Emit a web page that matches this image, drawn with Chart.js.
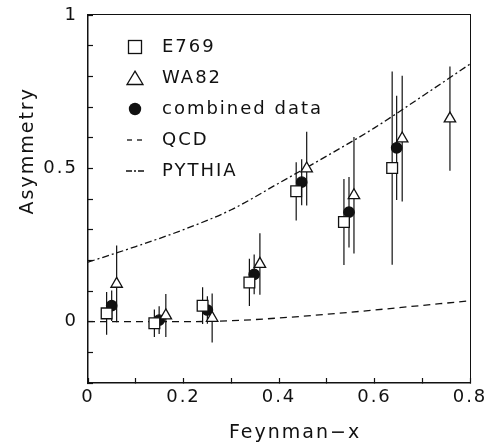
<!DOCTYPE html>
<html>
<head>
<meta charset="utf-8">
<script src="https://cdn.jsdelivr.net/npm/chart.js@4/dist/chart.umd.min.js"></script>
<style>
html,body{margin:0;padding:0;background:#fff;}
#wrap{position:relative;width:490px;height:445px;}
#frame{position:absolute;box-sizing:border-box;border-top:1.5px solid #111;border-right:1.5px solid #111;pointer-events:none;}
</style>
</head>
<body>
<div id="wrap"><canvas id="c" width="490" height="445"></canvas><div id="frame"></div></div>
<script>
// ---- data ----
const e769X = [0.039, 0.139, 0.240, 0.338, 0.436, 0.536, 0.637];
const e769Y = [0.027, -0.005, 0.052, 0.128, 0.425, 0.325, 0.501];
const e769E = [0.070, 0.045, 0.060, 0.077, 0.095, 0.140, 0.315];

const wa82X = [0.060, 0.163, 0.260, 0.360, 0.458, 0.557, 0.658, 0.758];
const wa82Y = [0.123, 0.020, 0.012, 0.188, 0.499, 0.412, 0.597, 0.662];
const wa82E = [0.125, 0.070, 0.080, 0.100, 0.120, 0.190, 0.205, 0.170];

const combX = [0.0496, 0.149, 0.250, 0.348, 0.4475, 0.5466, 0.6464];
const combY = [0.052, 0.005, 0.038, 0.154, 0.455, 0.357, 0.567];
const combE = [0.050, 0.045, 0.045, 0.065, 0.075, 0.115, 0.170];

const curveX = [0, 0.1, 0.2, 0.3, 0.4, 0.5, 0.6, 0.7, 0.8];
const qcdY = [0, 0, 0, 0.003, 0.012, 0.024, 0.038, 0.053, 0.068];
const pythiaY = [0.194, 0.245, 0.300, 0.365, 0.452, 0.540, 0.632, 0.735, 0.840];

const xTickLabels = ['0', '0.2', '0.4', '0.6', '0.8'];
const yTickLabels = ['0', '0.5', '1'];
const seriesNames = ['E769', 'WA82', 'combined data', 'QCD', 'PYTHIA'];

// ---- styling ----
const INK = '#111';
const FAMILY = '"DejaVu Sans", sans-serif';

function pts(xs, ys) { return xs.map((x, i) => ({x: x, y: ys[i]})); }
function errs(xs, ys, es) { return xs.map((x, i) => ({x: x, y: [ys[i] - es[i], ys[i] + es[i]]})); }

function makeIcon(w, h, draw) {
  const c = document.createElement('canvas');
  c.width = w; c.height = h;
  const g = c.getContext('2d');
  g.strokeStyle = INK; g.fillStyle = INK; g.lineWidth = 1.3;
  draw(g);
  return c;
}
const legendIcons = {};
legendIcons[seriesNames[0]] = makeIcon(16, 16, g => g.strokeRect(1.5, 1.5, 13, 13));
legendIcons[seriesNames[1]] = makeIcon(18, 16, g => { g.beginPath(); g.moveTo(9, 1.2); g.lineTo(17, 14.5); g.lineTo(1, 14.5); g.closePath(); g.stroke(); });
legendIcons[seriesNames[2]] = makeIcon(14, 14, g => { g.beginPath(); g.arc(7, 7, 6.2, 0, Math.PI * 2); g.fill(); });
legendIcons[seriesNames[3]] = makeIcon(16, 4, g => { g.setLineDash([5, 5]); g.beginPath(); g.moveTo(0, 2); g.lineTo(16, 2); g.stroke(); });
legendIcons[seriesNames[4]] = makeIcon(18, 4, g => { g.setLineDash([6, 2, 2, 2]); g.beginPath(); g.moveTo(0, 2); g.lineTo(18, 2); g.stroke(); });

function matchLabel(v, list) {
  const r = String(Math.round(v * 10) / 10);
  return list.indexOf(r) >= 0 ? r : '';
}

// places the top/right frame overlay on the library's computed chart area
function placeFrame(chart) {
  const a = chart.chartArea;
  const f = document.getElementById('frame');
  if (!a || !f) return;
  f.style.left = (a.left - 0.75) + 'px';
  f.style.top = (a.top - 0.75) + 'px';
  f.style.width = (a.right - a.left + 1.5) + 'px';
  f.style.height = (a.bottom - a.top + 0.75) + 'px';
}

const stylePlugin = {
  id: 'stylePlugin',
  beforeUpdate(chart) { chart.ctx.letterSpacing = '2px'; },
  beforeDraw(chart) { chart.ctx.letterSpacing = '2px'; },
  afterDraw(chart) { placeFrame(chart); }
};
const legendPlace = {
  id: 'legendPlace',
  afterLayout(chart) {
    const l = chart.legend;
    if (!l) return;
    l.left = 104; l.top = 25;
    l.right = l.left + l.width;
    l.bottom = chart.chartArea.bottom;
  }
};

const markerBase = {type: 'scatter', borderColor: INK, borderWidth: 1.3, pointHoverRadius: 0, order: 0};
const barBase = {type: 'bar', backgroundColor: INK, borderWidth: 0, inflateAmount: 0, grouped: false, barThickness: 1.2, maxBarThickness: 1.2, order: 1, label: ''};

const chart = new Chart(document.getElementById('c'), {
  type: 'scatter',
  data: {
    datasets: [
      Object.assign({}, markerBase, {label: seriesNames[0], data: pts(e769X, e769Y), pointStyle: 'rect', pointRadius: 7.6, backgroundColor: '#fff'}),
      Object.assign({}, markerBase, {label: seriesNames[1], data: pts(wa82X, wa82Y), pointStyle: 'triangle', pointRadius: 6.6, backgroundColor: '#fff'}),
      Object.assign({}, markerBase, {label: seriesNames[2], data: pts(combX, combY), pointStyle: 'circle', pointRadius: 5.2, backgroundColor: INK}),
      Object.assign({}, barBase, {data: errs(e769X, e769Y, e769E)}),
      Object.assign({}, barBase, {data: errs(wa82X, wa82Y, wa82E)}),
      Object.assign({}, barBase, {data: errs(combX, combY, combE)}),
      {type: 'line', label: seriesNames[3], data: pts(curveX, qcdY), borderColor: INK, borderWidth: 1.3, borderDash: [7, 5], pointRadius: 0, fill: false, cubicInterpolationMode: 'monotone', order: 2},
      {type: 'line', label: seriesNames[4], data: pts(curveX, pythiaY), borderColor: INK, borderWidth: 1.3, borderDash: [7, 3, 2, 3], pointRadius: 0, fill: false, cubicInterpolationMode: 'monotone', order: 2}
    ]
  },
  options: {
    responsive: false,
    animation: false,
    devicePixelRatio: 1,
    layout: {padding: {left: 0, right: 20, top: 15, bottom: 0}},
    plugins: {
      tooltip: {enabled: false},
      legend: {
        position: 'chartArea',
        align: 'start',
        labels: {
          usePointStyle: true,
          pointStyleWidth: 36,
          padding: 13,
          color: INK,
          font: {family: FAMILY, size: 18},
          filter: item => item.text !== '',
          generateLabels(chart) {
            const items = Chart.defaults.plugins.legend.labels.generateLabels(chart);
            items.forEach(it => { if (legendIcons[it.text]) it.pointStyle = legendIcons[it.text]; });
            return items;
          }
        }
      }
    },
    scales: {
      x: {
        type: 'linear', position: 'bottom', min: 0, max: 0.8, offset: false,
        afterFit(s) { s.height = 62; s.paddingLeft = 0; s.paddingRight = 0; },
        grid: {drawOnChartArea: false, drawTicks: true, tickLength: -5, tickColor: INK, tickWidth: 1.2, offset: false},
        border: {display: true, color: INK, width: 1.5},
        ticks: {stepSize: 0.1, padding: 9, color: INK, font: {family: FAMILY, size: 18}, maxRotation: 0, autoSkip: false,
          callback: v => matchLabel(v, xTickLabels)},
        title: {display: true, text: '    Feynman\u2212x', color: INK, font: {family: FAMILY, size: 19}, padding: {top: 0, bottom: 1}}
      },
      y: {
        type: 'linear', position: 'left', min: -0.2, max: 1, beginAtZero: false,
        afterFit(s) { s.width = 88; s.paddingTop = 0; s.paddingBottom = 0; },
        grid: {drawOnChartArea: false, drawTicks: true, tickLength: -5, tickColor: INK, tickWidth: 1.2},
        border: {display: true, color: INK, width: 1.5},
        ticks: {stepSize: 0.1, padding: 15, color: INK, font: {family: FAMILY, size: 18}, autoSkip: false,
          callback: v => matchLabel(v, yTickLabels)},
        title: {display: true, text: '            Asymmetry', color: INK, font: {family: FAMILY, size: 19}, padding: {top: 17, bottom: 0}}
      }
    }
  },
  plugins: [stylePlugin, legendPlace]
});
placeFrame(chart);
</script>
</body>
</html>
